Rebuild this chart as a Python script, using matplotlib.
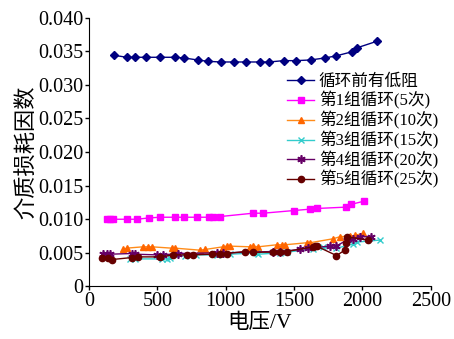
import matplotlib
matplotlib.use("Agg")
import matplotlib.pyplot as plt

plt.rcParams['font.family'] = ['Liberation Serif', 'Noto Sans CJK SC']

# 循环前有低阻
v0 = [183, 275, 336, 417, 519, 629, 694, 794, 868, 962, 1062, 1148, 1250, 1318,
      1423, 1513, 1620, 1725, 1806, 1920, 1959, 2108]
d0 = [0.0344, 0.0341, 0.0341, 0.0341, 0.0341, 0.0341, 0.0340, 0.0337, 0.0335,
      0.0334, 0.0334, 0.0334, 0.0334, 0.0334, 0.0336, 0.0336, 0.0337, 0.0340,
      0.0343, 0.0349, 0.0355, 0.0365]

# 第1组循环(5次)
v1 = [129, 154, 173, 275, 349, 441, 519, 629, 697, 792, 877, 909, 958, 1201,
      1274, 1501, 1615, 1664, 1876, 1915, 2013]
d1 = [0.0100, 0.0100, 0.0100, 0.0100, 0.0100, 0.0102, 0.0103, 0.0103, 0.0103,
      0.0103, 0.0103, 0.0104, 0.0104, 0.0109, 0.0109, 0.0113, 0.0115, 0.0116,
      0.0118, 0.0122, 0.0127]

# 第2组循环(10次)
v2 = [251, 275, 397, 433, 458, 604, 629, 811, 848, 982, 1006, 1031, 1177, 1201,
      1238, 1372, 1409, 1433, 1591, 1616, 1786, 1835, 1908, 1944, 2005]
d2 = [0.0055, 0.0057, 0.0059, 0.0059, 0.0059, 0.0057, 0.0057, 0.0054, 0.0055,
      0.0059, 0.0060, 0.0060, 0.0059, 0.0060, 0.0059, 0.0062, 0.0062, 0.0062,
      0.0065, 0.0065, 0.0071, 0.0074, 0.0075, 0.0076, 0.0079]

# 第3组循环(15次)
v3 = [300, 336, 531, 568, 592, 700, 780, 933, 1031, 1226, 1238, 1396, 1445,
      1640, 1713, 1810, 1932, 1957, 2127]
d3 = [0.0041, 0.0041, 0.0041, 0.0041, 0.0042, 0.0046, 0.0047, 0.0047, 0.0048,
      0.0050, 0.0048, 0.0050, 0.0051, 0.0056, 0.0058, 0.0057, 0.0063, 0.0066,
      0.0069]

# 第4组循环(20次)
v4 = [105, 129, 154, 312, 336, 495, 543, 653, 933, 982, 1347, 1396, 1542, 1603,
      1762, 1810, 1884, 1932, 1981, 2066]
d4 = [0.0048, 0.0048, 0.0048, 0.0049, 0.0048, 0.0047, 0.0047, 0.0049, 0.0050,
      0.0050, 0.0052, 0.0052, 0.0055, 0.0057, 0.0060, 0.0060, 0.0069, 0.0070,
      0.0074, 0.0074]

# 第5组循环(25次)
v5 = [93, 141, 166, 312, 361, 519, 616, 714, 763, 897, 958, 1006, 1140, 1201,
      1347, 1396, 1445, 1640, 1652, 1664, 1810, 1871, 1879, 1884, 2042]
d5 = [0.0042, 0.0042, 0.0040, 0.0043, 0.0044, 0.0044, 0.0047, 0.0047, 0.0047,
      0.0048, 0.0049, 0.0049, 0.0052, 0.0051, 0.0051, 0.0052, 0.0052, 0.0059,
      0.0060, 0.0060, 0.0046, 0.0054, 0.0064, 0.0074, 0.0069]

labels = ['循环前有低阻', '第1组循环(5次)', '第2组循环(10次)',
          '第3组循环(15次)', '第4组循环(20次)', '第5组循环(25次)']

fig = plt.figure(figsize=(4.54, 3.39), dpi=100)
ax = fig.add_axes([0.196, 0.155, 0.753, 0.793])

ax.plot(v0, d0, color='#000080', lw=1, marker='D', ms=4, label=labels[0])
ax.plot(v1, d1, color='#ff00ff', lw=1, marker='s', ms=4.5, label=labels[1])
ax.plot(v2, d2, color='#ff8c1a', lw=1, marker='^', ms=5,
        mfc='#ff6600', mec='#ff6600', label=labels[2])
ax.plot(v3, d3, color='#33cccc', lw=1, marker='x', ms=5, mew=1, label=labels[3])
ax.plot(v4, d4, color='#660066', lw=1, marker=(6, 2, 0), ms=6, mew=1.2,
        label=labels[4])
ax.plot(v5, d5, color='#660000', lw=1, marker='o', ms=4.5, label=labels[5])

ax.set_xlim(0, 2500)
ax.set_ylim(0, 0.04)
ax.set_xticks([0, 500, 1000, 1500, 2000, 2500])
ax.set_yticks([0, 0.005, 0.01, 0.015, 0.02, 0.025, 0.03, 0.035, 0.04])
ax.set_yticklabels(['0', '0.005', '0.010', '0.015', '0.020', '0.025', '0.030',
                    '0.035', '0.040'])
ax.tick_params(direction='out', length=3, width=1, labelsize=14.5, pad=1)
for s in ['top', 'right']:
    ax.spines[s].set_visible(False)

ax.set_xlabel('电压/V', fontsize=15.5, labelpad=2)
ax.set_ylabel('介质损耗因数', fontsize=16, labelpad=1)

ax.legend(loc='upper left', bbox_to_anchor=(0.58, 0.79), frameon=False,
          fontsize=12, handlelength=1.6, handletextpad=0.3,
          labelspacing=0.1, borderaxespad=0, borderpad=0)

fig.savefig('out.png', dpi=100)
